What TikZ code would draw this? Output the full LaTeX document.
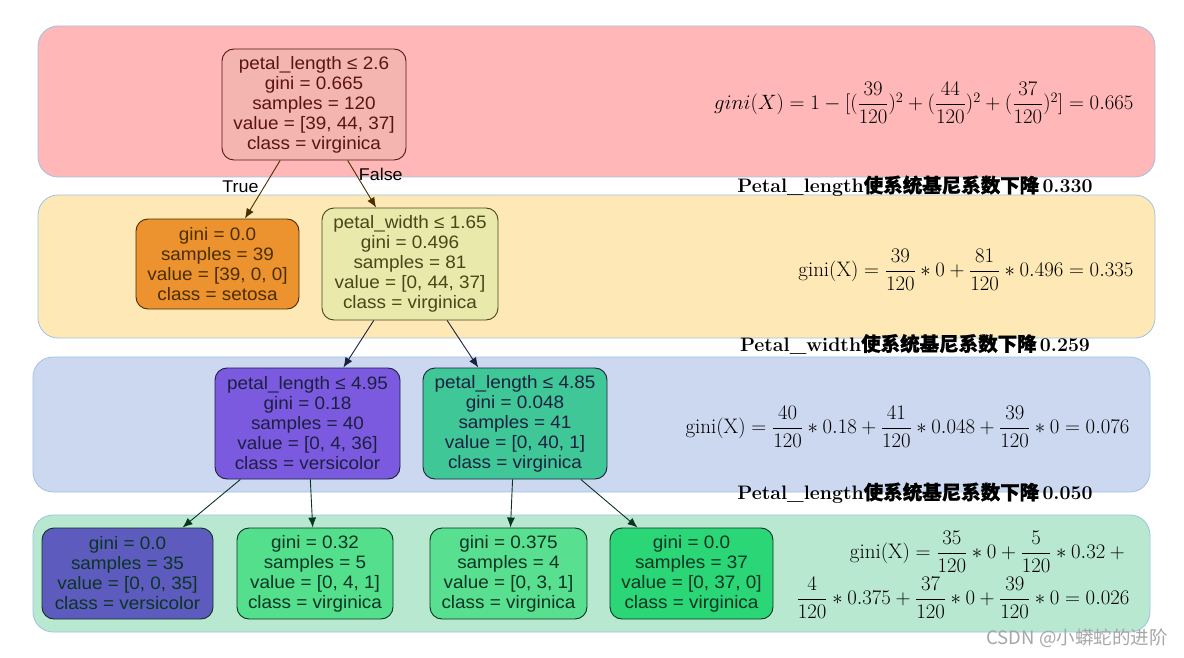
\documentclass[tikz,border=0pt]{standalone}
\usepackage{amsmath}
\usepackage{fontspec}
\usetikzlibrary{arrows.meta}
\newfontfamily\nodefont{Liberation Sans}[FakeStretch=1.05]
\newfontfamily\cjk{Noto Sans CJK SC}
\newfontfamily\cjkbold{Noto Sans CJK SC}[FakeBold=0.9]
\definecolor{bandline}{HTML}{9DC3E6}
\definecolor{bandred}{HTML}{FFB7B7}
\definecolor{bandyellow}{HTML}{FEE9B6}
\definecolor{bandblue}{HTML}{CCD8F0}
\definecolor{bandgreen}{HTML}{B9E8D0}
\definecolor{rootfill}{HTML}{F4B4AF}
\definecolor{rootink}{HTML}{5A1414}
\definecolor{setosafill}{HTML}{EC932F}
\definecolor{setosaink}{HTML}{4A2E00}
\definecolor{pwfill}{HTML}{E9E9AC}
\definecolor{pwink}{HTML}{4A4618}
\definecolor{plafill}{HTML}{7B5AE0}
\definecolor{plbfill}{HTML}{3FC797}
\definecolor{blueink}{HTML}{1C2040}
\definecolor{leafafill}{HTML}{5D5CBE}
\definecolor{leafbfill}{HTML}{53DF8C}
\definecolor{leafcfill}{HTML}{58DF8F}
\definecolor{leafdfill}{HTML}{2BD676}
\definecolor{greenink}{HTML}{0C3424}

\begin{document}
\begin{tikzpicture}[x=1pt,y=-1pt,
  band/.style={draw=bandline,line width=0.8pt,rounded corners=20pt},
  tnode/.style={draw,rounded corners=12pt,line width=0.9pt,align=center,inner sep=0pt,
    font=\nodefont\fontsize{18}{20}\selectfont},
  edge/.style={-{Latex[length=10pt,width=8pt]},line width=0.9pt},
  lbl/.style={font=\nodefont\fontsize{17}{18}\selectfont},
  gain/.style={font=\fontsize{19.5}{22}\selectfont\bfseries},
  formula/.style={anchor=east,font=\fontsize{21}{24}\selectfont}]
  \useasboundingbox (0,0) rectangle (1184,658);

  % coloured bands, one per depth
  \draw[band,fill=bandred] (38,26) rectangle (1155,177);
  \draw[band,fill=bandyellow] (38,195) rectangle (1155,338);
  \draw[band,fill=bandblue] (33,357) rectangle (1150,492);
  \draw[band,fill=bandgreen] (33,515) rectangle (1150,632);

  % tree
  \node[tnode,fill=rootfill,draw=rootink,text=rootink,minimum width=184pt,minimum height=111pt]
    (root) at (314,104.5) {petal\_length ≤ 2.6\\gini = 0.665\\samples = 120\\value = [39, 44, 37]\\class = virginica};
  \node[tnode,fill=setosafill,draw=setosaink,text=setosaink,minimum width=163pt,minimum height=90pt]
    (setosa) at (217.5,264) {gini = 0.0\\samples = 39\\value = [39, 0, 0]\\class = setosa};
  \node[tnode,fill=pwfill,draw=pwink,text=pwink,minimum width=176pt,minimum height=112pt]
    (pw) at (410,264) {petal\_width ≤ 1.65\\gini = 0.496\\samples = 81\\value = [0, 44, 37]\\class = virginica};
  \node[tnode,fill=plafill,draw=blueink,text=blueink,minimum width=185pt,minimum height=111pt]
    (pla) at (307.5,423.5) {petal\_length ≤ 4.95\\gini = 0.18\\samples = 40\\value = [0, 4, 36]\\class = versicolor};
  \node[tnode,fill=plbfill,draw=blueink,text=blueink,minimum width=184pt,minimum height=111pt]
    (plb) at (515,423.5) {petal\_length ≤ 4.85\\gini = 0.048\\samples = 41\\value = [0, 40, 1]\\class = virginica};
  \node[tnode,fill=leafafill,draw=greenink,text=greenink,minimum width=171pt,minimum height=91pt]
    (leafa) at (127.5,573.5) {gini = 0.0\\samples = 35\\value = [0, 0, 35]\\class = versicolor};
  \node[tnode,fill=leafbfill,draw=greenink,text=greenink,minimum width=156pt,minimum height=91pt]
    (leafb) at (315,573.5) {gini = 0.32\\samples = 5\\value = [0, 4, 1]\\class = virginica};
  \node[tnode,fill=leafcfill,draw=greenink,text=greenink,minimum width=157pt,minimum height=91pt]
    (leafc) at (508.5,573.5) {gini = 0.375\\samples = 4\\value = [0, 3, 1]\\class = virginica};
  \node[tnode,fill=leafdfill,draw=greenink,text=greenink,minimum width=163pt,minimum height=91pt]
    (leafd) at (691.5,573.5) {gini = 0.0\\samples = 37\\value = [0, 37, 0]\\class = virginica};

  \draw[edge,draw=setosaink] (root) -- node[lbl,pos=0.45,left=2pt] (ltrue) {True} (setosa);
  \draw[edge,draw=setosaink] (root) -- node[lbl,pos=0.3,right=-1pt] (lfalse) {False} (pw);
  \draw[edge,draw=blueink] (pw) -- (pla);
  \draw[edge,draw=blueink] (pw) -- (plb);
  \draw[edge,draw=greenink] (pla) -- (leafa);
  \draw[edge,draw=greenink] (pla) -- (leafb);
  \draw[edge,draw=greenink] (plb) -- (leafc);
  \draw[edge,draw=greenink] (plb) -- (leafd);

  % gini of each level
  \node[formula] (fa) at (1137,103)
    {$gini(X)=1-[(\dfrac{39}{120})^2+(\dfrac{44}{120})^2+(\dfrac{37}{120})^2]=0.665$};
  \node[formula] (fb) at (1137,270)
    {$\mathrm{gini(X)}=\dfrac{39}{120}\ast 0+\dfrac{81}{120}\ast 0.496=0.335$};
  \node[formula] (fc) at (1133,427)
    {$\mathrm{gini(X)}=\dfrac{40}{120}\ast 0.18+\dfrac{41}{120}\ast 0.048+\dfrac{39}{120}\ast 0=0.076$};
  \node[formula] (fd) at (1133,552)
    {$\mathrm{gini(X)}=\dfrac{35}{120}\ast 0+\dfrac{5}{120}\ast 0.32+{}$};
  \node[formula] (fe) at (1133,598)
    {$\dfrac{4}{120}\ast 0.375+\dfrac{37}{120}\ast 0+\dfrac{39}{120}\ast 0=0.026$};

  % drop between levels
  \node[gain] (ga) at (915,186) {Petal\_length{\cjkbold 使系统基尼系数下降}\,0.330};
  \node[gain] (gb) at (915,344) {Petal\_width{\cjkbold 使系统基尼系数下降}\,0.259};
  \node[gain] (gc) at (915,493) {Petal\_length{\cjkbold 使系统基尼系数下降}\,0.050};

  \node[text=black!35,font=\cjk\fontsize{18.5}{20}\selectfont] (mark) at (1077,638) {CSDN @小蟒蛇的进阶};
\end{tikzpicture}
\end{document}
